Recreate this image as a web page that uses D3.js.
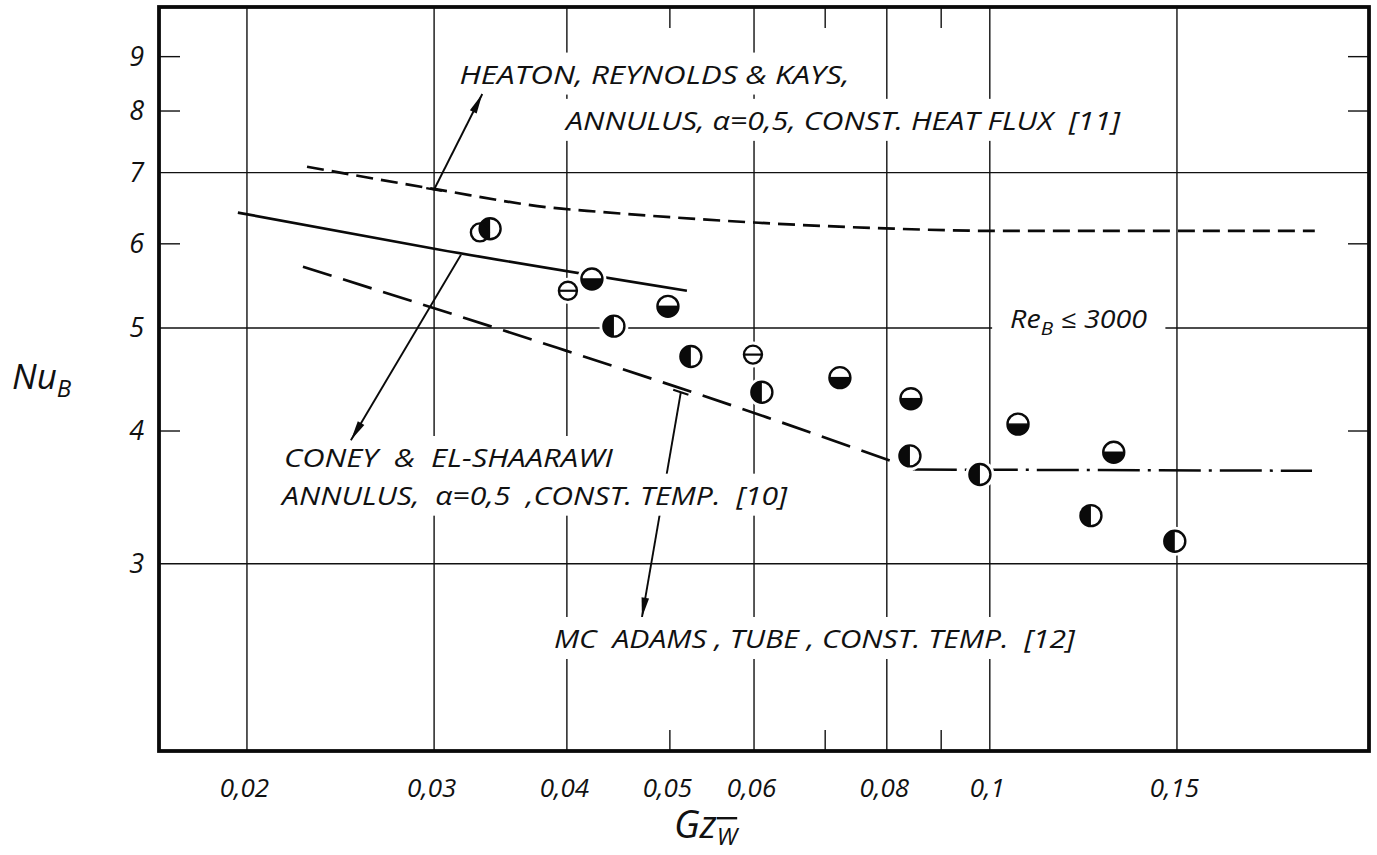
<!DOCTYPE html>
<html><head><meta charset="utf-8">
<script src="https://cdn.jsdelivr.net/npm/d3@7"></script>
<style>
html,body{margin:0;padding:0;background:#fff;}
svg{display:block;}
text{font-family:"Open Sans","DejaVu Sans",sans-serif;font-style:italic;fill:#111;}
</style></head><body>
<svg id="chart" width="1377" height="855"></svg>
<script>
// ---------- data ----------
const xGridVals = [0.02, 0.03, 0.04, 0.06, 0.08, 0.1, 0.15];
const xMinorVals = [0.05, 0.07, 0.09];
const xTickVals = [0.02, 0.03, 0.04, 0.05, 0.06, 0.08, 0.1, 0.15];
const xTickLabels = ["0,02", "0,03", "0,04", "0,05", "0,06", "0,08", "0,1", "0,15"];
const yGridVals = [3, 5, 7];
const yMinorVals = [4, 6, 8, 9];
const yTickVals = [3, 4, 5, 6, 7, 8, 9];
const yTickLabels = ["3", "4", "5", "6", "7", "8", "9"];

// Heaton, Reynolds & Kays (annulus, const. heat flux) – short dashed
const heatonX = [0.02278, 0.03019, 0.03857, 0.0430, 0.0606, 0.0812, 0.1015, 0.2022];
const heatonY = [7.09, 6.75, 6.49, 6.43, 6.28, 6.20, 6.17, 6.17];
// Coney & El-Shaarawi (annulus, const. temp.) – solid
const coneyX = [0.01961, 0.03019, 0.05188];
const coneyY = [6.42, 5.93, 5.42];
// McAdams (tube, const. temp.) – long dashed, then dash-dot asymptote
const mcX = [0.02258, 0.03917, 0.0617, 0.0850];
const mcY = [5.71, 4.79, 4.12, 3.68];
const mcAsymX = [0.0850, 0.201];
const mcAsymY = [3.68, 3.67];

// measured points
const ptX = [0.03387, 0.03313, 0.04009, 0.04223, 0.04429, 0.04979, 0.05233, 0.05986, 0.06103, 0.07227, 0.08429, 0.08411, 0.09788, 0.1063, 0.1308, 0.1245, 0.1493];
const ptY = [6.20, 6.15, 5.42, 5.56, 5.02, 5.24, 4.70, 4.72, 4.35, 4.49, 4.29, 3.79, 3.64, 4.06, 3.82, 3.33, 3.15];
const ptType = ["left", "ring", "open", "bottom", "left", "bottom", "left", "open", "left", "bottom", "bottom", "left", "left", "bottom", "bottom", "left", "left"];

// annotations
const noteText = ["HEATON, REYNOLDS & KAYS,",
  "ANNULUS, \u03b1=0,5, CONST. HEAT FLUX  [11]",
  "CONEY  &  EL-SHAARAWI",
  "ANNULUS,  \u03b1=0,5  ,CONST. TEMP.  [10]",
  "MC  ADAMS , TUBE , CONST. TEMP.  [12]"];
const noteX = [0.0317, 0.03993, 0.02167, 0.02158, 0.03889];
const noteY = [8.49, 7.68, 3.70, 3.41, 2.50];
const leaderFromX = [0.0300, 0.0318, 0.0512];
const leaderFromY = [6.75, 5.86, 4.35];
const leaderToX = [0.0333, 0.02505, 0.04706];
const leaderToY = [8.30, 3.92, 2.67];

// ---------- layout ----------
const L = {left: 159, right: 1369, top: 7, bottom: 751};
const noteW = [390, 554, 329, 505, 521];
const FONT = 25;

const svg = d3.select("#chart");
svg.append("rect").attr("width", 1377).attr("height", 855).attr("fill", "#fff");

const x = d3.scaleLog().domain([0.01653, 0.2274]).range([L.left, L.right]);
const y = d3.scaleLog().domain([2, 10]).range([751, 8]);

const gGrid = svg.append("g").attr("stroke", "#111").attr("stroke-width", 1.4);
const gUnder = svg.append("g");
const gMask = svg.append("g");
const gCurves = svg.append("g").attr("fill", "none").attr("stroke", "#0a0a0a").attr("stroke-width", 2.7);
const gHalo = svg.append("g");
const gPts = svg.append("g");
const gLead = svg.append("g");
const gText = svg.append("g");

// grid
gGrid.selectAll("line.vx").data(xGridVals).join("line")
  .attr("x1", d => x(d)).attr("x2", d => x(d)).attr("y1", L.top).attr("y2", L.bottom);
gGrid.append("g").selectAll("line").data(xMinorVals).join("line")
  .attr("x1", d => x(d)).attr("x2", d => x(d)).attr("y1", L.bottom - 21).attr("y2", L.bottom);
gGrid.append("g").selectAll("line").data(xMinorVals).join("line")
  .attr("x1", d => x(d)).attr("x2", d => x(d)).attr("y1", L.top).attr("y2", L.top + 21);
gGrid.append("g").selectAll("line").data(yGridVals).join("line")
  .attr("x1", L.left).attr("x2", L.right).attr("y1", d => y(d)).attr("y2", d => y(d));
gGrid.append("g").selectAll("line").data(yMinorVals).join("line")
  .attr("x1", L.left).attr("x2", L.left + 21).attr("y1", d => y(d)).attr("y2", d => y(d));
gGrid.append("g").selectAll("line").data(yMinorVals).join("line")
  .attr("x1", L.right - 21).attr("x2", L.right).attr("y1", d => y(d)).attr("y2", d => y(d));

// curves
const zip = (a, b) => a.map((v, i) => [v, b[i]]);
const line = d3.line().x(d => x(d[0])).y(d => y(d[1])).curve(d3.curveMonotoneX);
gCurves.append("path").attr("d", line(zip(heatonX, heatonY))).attr("stroke-dasharray", "17,8");
gCurves.append("path").attr("d", line(zip(coneyX, coneyY)));
gCurves.append("path").attr("d", line(zip(mcX, mcY))).attr("stroke-dasharray", "30,12");
gCurves.append("path").attr("d", d3.line().x(d => x(d[0])).y(d => y(d[1]))(zip(mcAsymX, mcAsymY)))
  .attr("stroke-dasharray", "42,8,3,8").attr("stroke-width", 2.5);

// points
const pts = ptX.map((v, i) => ({x: v, y: ptY[i], t: ptType[i]}));
const R = t => (t === "open" || t === "ring") ? 9 : 10.5;
gHalo.selectAll("circle").data(pts.filter(d => d.t !== "ring")).join("circle")
  .attr("cx", d => x(d.x)).attr("cy", d => y(d.y)).attr("r", d => R(d.t) + 4).attr("fill", "#fff");
pts.forEach(d => {
  const g = gPts.append("g").attr("transform", `translate(${x(d.x)},${y(d.y)})`);
  const r = R(d.t);
  g.append("circle").attr("r", r).attr("fill", d.t === "ring" ? "none" : "#fff")
    .attr("stroke", "#0a0a0a").attr("stroke-width", 2.4);
  if (d.t === "bottom") {
    g.append("path").attr("d", d3.arc().innerRadius(0).outerRadius(r).startAngle(Math.PI / 2).endAngle(3 * Math.PI / 2)()).attr("fill", "#0a0a0a");
    g.append("line").attr("x1", -r).attr("x2", r).attr("stroke", "#0a0a0a").attr("stroke-width", 1.5);
  } else if (d.t === "left") {
    g.append("path").attr("d", d3.arc().innerRadius(0).outerRadius(r).startAngle(Math.PI).endAngle(2 * Math.PI)()).attr("fill", "#0a0a0a");
  } else if (d.t === "open") {
    g.append("line").attr("x1", -r).attr("x2", r).attr("stroke", "#0a0a0a").attr("stroke-width", 2.2);
  }
});

// leaders
function leader(parent, i, footSeries) {
  const x0 = x(leaderFromX[i]), y0 = y(leaderFromY[i]);
  const x1 = x(leaderToX[i]), y1 = y(leaderToY[i]);
  parent.append("line").attr("x1", x0).attr("y1", y0).attr("x2", x1).attr("y2", y1)
    .attr("stroke", "#0a0a0a").attr("stroke-width", 1.9);
  const a = Math.atan2(y1 - y0, x1 - x0), len = 20, hw = 3.8;
  const bx = x1 - len * Math.cos(a), by = y1 - len * Math.sin(a);
  parent.append("path").attr("fill", "#0a0a0a")
    .attr("d", `M${x1},${y1}L${bx + hw * Math.sin(a)},${by - hw * Math.cos(a)}L${bx - hw * Math.sin(a)},${by + hw * Math.cos(a)}Z`);
  if (footSeries) {
    const [sx, sy] = footSeries;
    let k = 0;
    for (let j = 0; j < sx.length - 1; j++) if (sx[j] <= leaderFromX[i] && sx[j + 1] >= leaderFromX[i]) k = j;
    const q0 = [x(sx[k]), y(sy[k])], q1 = [x(sx[k + 1]), y(sy[k + 1])];
    const b = Math.atan2(q1[1] - q0[1], q1[0] - q0[0]), fl = 8;
    parent.append("line").attr("x1", x0 - fl * Math.cos(b)).attr("y1", y0 - fl * Math.sin(b))
      .attr("x2", x0 + fl * Math.cos(b)).attr("y2", y0 + fl * Math.sin(b))
      .attr("stroke", "#0a0a0a").attr("stroke-width", 2.2);
  }
}
leader(gLead, 0, [heatonX, heatonY]);
leader(gLead, 1, null);
leader(gUnder, 2, [mcX, mcY]);

// annotation texts with white masks
function addMask(t, padX, padY) {
  const b = t.node().getBBox();
  gMask.append("rect").attr("x", b.x - padX).attr("y", b.y - padY)
    .attr("width", b.width + 2 * padX).attr("height", b.height + 2 * padY).attr("fill", "#fff");
}
noteText.forEach((s, i) => {
  const t = gText.append("text").attr("x", x(noteX[i])).attr("y", y(noteY[i]))
    .attr("font-size", FONT).style("white-space", "pre")
    .attr("textLength", noteW[i]).attr("lengthAdjust", "spacingAndGlyphs").text(s);
  addMask(t, 8, 4);
});
const re = gText.append("text").attr("x", x(0.1045)).attr("y", y(5.0)).attr("font-size", FONT)
  .style("white-space", "pre").attr("textLength", 137).attr("lengthAdjust", "spacingAndGlyphs");
re.append("tspan").text("Re");
re.append("tspan").attr("font-size", 18).attr("dy", 7).text("B");
re.append("tspan").attr("dy", -7).text(" \u2264 3000");
addMask(re, 18, 2);

// axis tick labels
const gx = svg.append("g").attr("transform", `translate(-3,797)`)
  .call(d3.axisBottom(x).tickValues(xTickVals).tickFormat((d, i) => xTickLabels[i]).tickSize(0));
gx.select(".domain").remove();
gx.attr("font-family", null).attr("font-size", 26);
gx.selectAll("text").attr("y", 0).attr("dy", null).attr("fill", "#111");

const gy = svg.append("g").attr("transform", `translate(144,0)`)
  .call(d3.axisLeft(y).tickValues(yTickVals).tickFormat((d, i) => yTickLabels[i]).tickSize(0).tickPadding(0));
gy.select(".domain").remove();
gy.attr("font-family", null).attr("font-size", 27);
gy.selectAll("text").attr("x", 0).attr("fill", "#111");

// axis titles
const ny = svg.append("text").attr("x", 12).attr("y", 389).attr("font-size", 35);
ny.append("tspan").text("Nu");
ny.append("tspan").attr("font-size", 24).attr("dy", 8).text("B");

const gz = svg.append("text").attr("x", 674).attr("y", 838).attr("font-size", 38);
gz.append("tspan").text("Gz");
gz.append("tspan").attr("font-size", 24).attr("dy", 7).style("text-decoration", "overline").text("W");

// frame
svg.append("rect").attr("x", L.left).attr("y", L.top).attr("width", L.right - L.left).attr("height", L.bottom - L.top)
  .attr("fill", "none").attr("stroke", "#0a0a0a").attr("stroke-width", 3.8);
</script>
</body></html>
